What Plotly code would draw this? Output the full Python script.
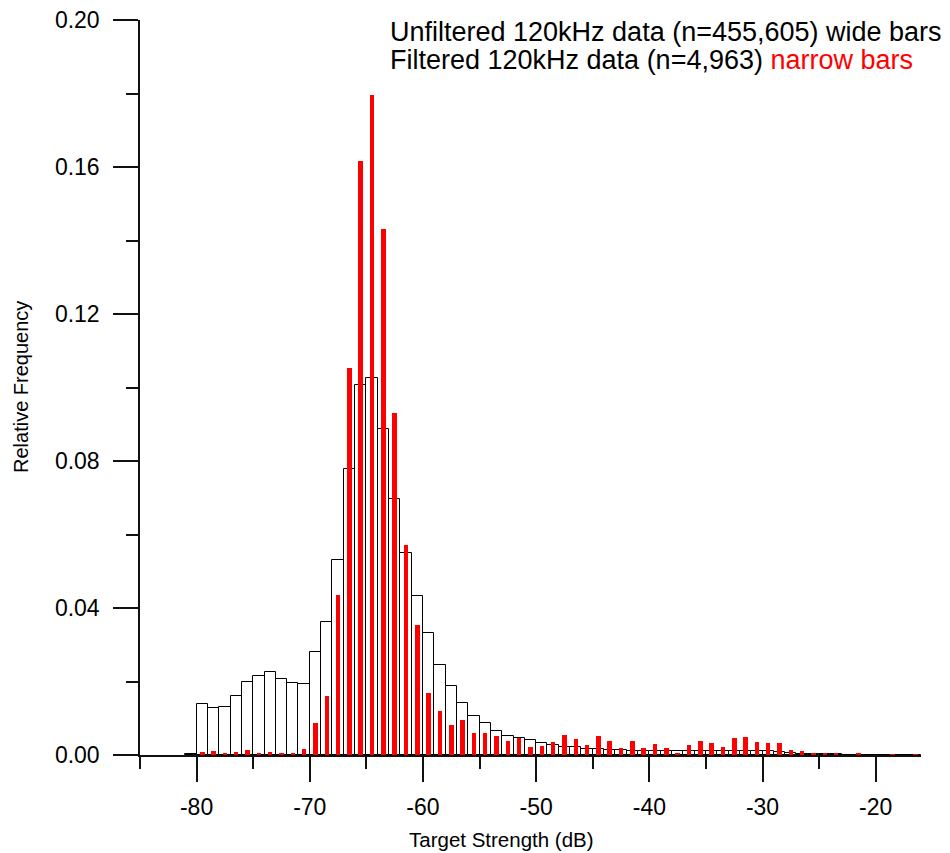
import plotly.graph_objects as go

# Bin centres (1 dB bins)
wide_x = [-80.5, -79.5, -78.5, -77.5, -76.5, -75.5, -74.5, -73.5, -72.5, -71.5,
          -70.5, -69.5, -68.5, -67.5, -66.5, -65.5, -64.5, -63.5, -62.5, -61.5,
          -60.5, -59.5, -58.5, -57.5, -56.5, -55.5, -54.5, -53.5, -52.5, -51.5,
          -50.5, -49.5, -48.5, -47.5, -46.5, -45.5, -44.5, -43.5, -42.5, -41.5,
          -40.5, -39.5, -38.5, -37.5, -36.5, -35.5, -34.5, -33.5, -32.5, -31.5,
          -30.5, -29.5, -28.5, -27.5, -26.5, -25.5, -24.5, -23.5, -22.5, -21.5,
          -20.5, -19.5, -18.5, -17.5, -16.5]
# Unfiltered 120kHz data, relative frequency (wide bars)
wide_y = [0.0004, 0.0138, 0.0127, 0.0131, 0.0160, 0.0200, 0.0215, 0.0225, 0.0208, 0.0197,
          0.0194, 0.0279, 0.0362, 0.0531, 0.0779, 0.1007, 0.1026, 0.0887, 0.0697, 0.0551,
          0.0434, 0.0331, 0.0245, 0.0187, 0.0141, 0.0107, 0.0086, 0.0066, 0.0052, 0.0045,
          0.0041, 0.0032, 0.0027, 0.0023, 0.0021, 0.0016, 0.0015, 0.0014, 0.0013, 0.0012,
          0.0012, 0.0011, 0.0011, 0.0010, 0.0011, 0.0011, 0.0010, 0.0011, 0.0011, 0.0011,
          0.0011, 0.0012, 0.0009, 0.0006, 0.0004, 0.0003, 0.0002, 0.0002, 0.0001, 0.0001,
          0.0001, 0.0001, 0.0001, 0.0001, 0.0001]

red_x = [-79.5, -78.5, -77.5, -76.5, -75.5, -74.5, -73.5, -72.5, -71.5,
         -70.5, -69.5, -68.5, -67.5, -66.5, -65.5, -64.5, -63.5, -62.5, -61.5,
         -60.5, -59.5, -58.5, -57.5, -56.5, -55.5, -54.5, -53.5, -52.5, -51.5,
         -50.5, -49.5, -48.5, -47.5, -46.5, -45.5, -44.5, -43.5, -42.5, -41.5,
         -40.5, -39.5, -38.5, -37.5, -36.5, -35.5, -34.5, -33.5, -32.5, -31.5,
         -30.5, -29.5, -28.5, -27.5, -26.5, -25.5, -24.5, -23.5, -22.5, -21.5,
         -20.5, -19.5, -18.5, -17.5, -16.5]
# Filtered 120kHz data, relative frequency (narrow bars)
red_y = [0.0008, 0.0010, 0.0005, 0.0007, 0.0014, 0.0006, 0.0007, 0.0005, 0.0005,
         0.0016, 0.0087, 0.0160, 0.0435, 0.1052, 0.1616, 0.1795, 0.1432, 0.0931, 0.0571,
         0.0353, 0.0169, 0.0120, 0.0082, 0.0095, 0.0061, 0.0059, 0.0052, 0.0038, 0.0045,
         0.0023, 0.0025, 0.0035, 0.0054, 0.0044, 0.0027, 0.0052, 0.0038, 0.0020, 0.0037,
         0.0020, 0.0031, 0.0020, 0.0006, 0.0027, 0.0037, 0.0033, 0.0022, 0.0046, 0.0049,
         0.0035, 0.0033, 0.0033, 0.0014, 0.0010, 0.0006, 0.0003, 0.0004, 0.0, 0.0004,
         0.0, 0.0, 0.0002, 0.0, 0.0002]

x_tick_vals = [-80, -70, -60, -50, -40, -30, -20]
x_tick_text = ["-80", "-70", "-60", "-50", "-40", "-30", "-20"]
y_tick_vals = [0.0, 0.04, 0.08, 0.12, 0.16, 0.20]
y_tick_text = ["0.00", "0.04", "0.08", "0.12", "0.16", "0.20"]

FONT = "Liberation Sans, Arial, sans-serif"

fig = go.Figure()
fig.add_trace(go.Bar(x=wide_x, y=wide_y, width=1.0,
                     marker=dict(color="white", line=dict(color="black", width=1)),
                     showlegend=False, hoverinfo="x+y"))
fig.add_trace(go.Bar(x=red_x, y=red_y, width=0.4,
                     marker=dict(color="#ff0000", line=dict(width=0)),
                     showlegend=False, hoverinfo="x+y"))

axis_common = dict(showgrid=False, zeroline=False, showline=True, linecolor="#111111",
                   linewidth=1.5, ticks="outside", ticklen=25, tickwidth=1.5,
                   tickcolor="#111111", automargin=False, ticklabeloverflow="allow",
                   tickfont=dict(family=FONT, size=23, color="black"))

# Target plot area on the page (page has an 8px body margin)
OFF = 8
L, R, T, B = 140, 29, 20, 98
PW, PH = 950 - L - R, 853 - T - B

fig.update_layout(
    width=950, height=853,
    margin=dict(l=L - OFF, r=R + OFF, t=T - OFF, b=B + OFF),
    paper_bgcolor="white", plot_bgcolor="white",
    barmode="overlay", bargap=0,
    font=dict(family=FONT, color="black"),
    xaxis=dict(range=[-85, -16], tickmode="array", tickvals=x_tick_vals, ticktext=x_tick_text,
               ticklabelstandoff=6, **axis_common,
               minor=dict(ticks="outside", ticklen=12, tickwidth=1.5, tickcolor="#111111",
                          tickmode="linear", tick0=-85, dtick=5)),
    yaxis=dict(range=[0, 0.2], tickmode="array", tickvals=y_tick_vals, ticktext=y_tick_text,
               ticklabelstandoff=9, **axis_common,
               minor=dict(ticks="outside", ticklen=12, tickwidth=1.5, tickcolor="#111111",
                          tickmode="linear", tick0=0, dtick=0.02)),
    annotations=[
        dict(text="Unfiltered 120kHz data (n=455,605) wide bars", xref="paper", yref="paper",
             x=(388 - L) / PW, y=(T + PH - 32) / PH, xanchor="left", yanchor="middle",
             showarrow=False, font=dict(family=FONT, size=27, color="black")),
        dict(text="Filtered 120kHz data (n=4,963) <span style='color:#ff0000'>narrow bars</span>",
             xref="paper", yref="paper",
             x=(388 - L) / PW, y=(T + PH - 60) / PH, xanchor="left", yanchor="middle",
             showarrow=False, font=dict(family=FONT, size=27, color="black")),
        dict(text="Target Strength (dB)", xref="paper", yref="paper",
             x=(501 - L) / PW, y=(T + PH - 840) / PH, xanchor="center", yanchor="middle",
             showarrow=False, font=dict(family=FONT, size=20.5, color="black")),
        dict(text="Relative Frequency", xref="paper", yref="paper", textangle=-90,
             x=(21 - L) / PW, y=(T + PH - 387) / PH, xanchor="center", yanchor="middle",
             showarrow=False, font=dict(family=FONT, size=20, color="black")),
    ],
)

fig.write_html("out.html")
